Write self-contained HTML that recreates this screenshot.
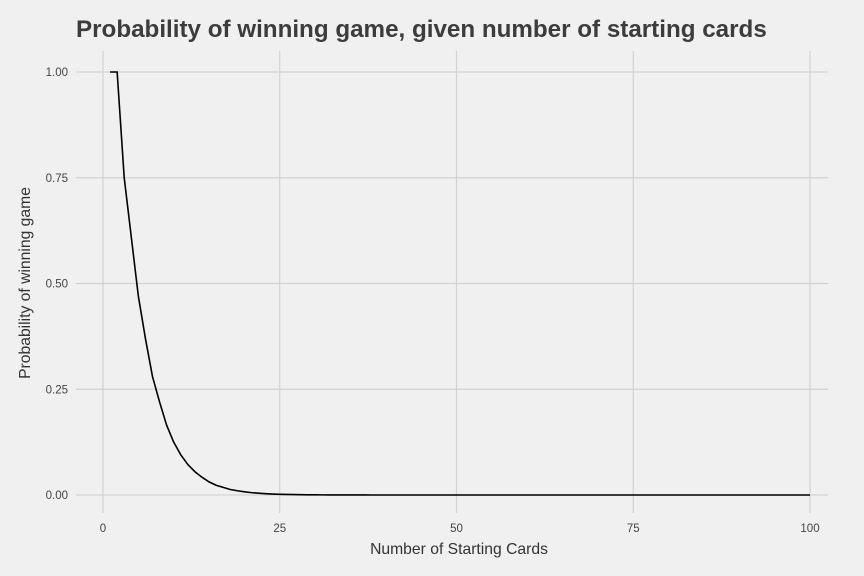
<!DOCTYPE html>
<html><head><meta charset="utf-8"><style>
body{margin:0;background:#f0f0f0;}
svg{display:block;font-family:"Liberation Sans",sans-serif;}
</style></head><body>
<svg id="chart" width="864" height="576" viewBox="0 0 864 576">
<rect width="864" height="576" fill="#f0f0f0"/>
<text x="76" y="37" font-size="24.2" font-weight="bold" fill="#3c3c3c">Probability of winning game, given number of starting cards</text>
<g id="grid"></g>
<g id="yticks"></g>
<g id="xticks"></g>
<path id="line" fill="none" stroke="#000" stroke-width="1.6"/>
<text x="459" y="554" font-size="15.7" fill="#333" text-anchor="middle">Number of Starting Cards</text>
<text transform="translate(30,283) rotate(-90)" font-size="15.7" fill="#333" text-anchor="middle">Probability of winning game</text>
</svg>
<script>
const yTicks=[0,0.25,0.5,0.75,1];
const yTickLabels=["0.00","0.25","0.50","0.75","1.00"];
const xTicks=[0,25,50,75,100];
const xTickLabels=["0","25","50","75","100"];
const cards=[];
for(let i=1;i<=100;i++)cards.push(i);
const probs=[1,1,0.75,0.61,0.47,0.37,0.28,0.22,0.165,0.125,0.095,0.072,0.055,0.042,0.031,0.023,0.018,0.013,0.010,0.0075,0.0056,0.0042,0.0031,0.0023,0.0017,0.0013,0.001,0.0007,0.0005,0.0004,0.0003,0.0002,0.00015,0.0001,0.00008,0.00006,0.00004,0.00003,0.00002,0.00001,
0,0,0,0,0,0,0,0,0,0,0,0,0,0,0,0,0,0,0,0,0,0,0,0,0,0,0,0,0,0,0,0,0,0,0,0,0,0,0,0,0,0,0,0,0,0,0,0,0,0,0,0,0,0,0,0,0,0,0,0];
const sx=v=>103+v*7.07;
const sy=v=>495-v*423;
const ns="http://www.w3.org/2000/svg";
const grid=document.getElementById('grid'),yt=document.getElementById('yticks'),xt=document.getElementById('xticks');
yTicks.forEach((t,i)=>{
 const l=document.createElementNS(ns,'line');
 
 
 l.setAttribute('x1',76);l.setAttribute('x2',828);l.setAttribute('y1',sy(t));l.setAttribute('y2',sy(t));
 l.setAttribute('stroke','#d2d2d2');l.setAttribute('stroke-width','1.2');grid.appendChild(l);
 const tx=document.createElementNS(ns,'text');
 
 
 tx.setAttribute('x',68);tx.setAttribute('y',sy(t)+4);tx.setAttribute('text-anchor','end');
 tx.setAttribute('font-size','11.5');tx.setAttribute('fill','#444');tx.textContent=yTickLabels[i];yt.appendChild(tx);
});
xTicks.forEach((t,i)=>{
 const l=document.createElementNS(ns,'line');
 
 
 l.setAttribute('x1',sx(t));l.setAttribute('x2',sx(t));l.setAttribute('y1',51);l.setAttribute('y2',513);
 l.setAttribute('stroke','#d2d2d2');l.setAttribute('stroke-width','1.2');grid.appendChild(l);
 const tx=document.createElementNS(ns,'text');
 
 
 tx.setAttribute('x',sx(t));tx.setAttribute('y',532);tx.setAttribute('text-anchor','middle');
 tx.setAttribute('font-size','11.5');tx.setAttribute('fill','#444');tx.textContent=xTickLabels[i];xt.appendChild(tx);
});
document.getElementById('line').setAttribute('d',cards.map((c,i)=>(i?'L':'M')+sx(c).toFixed(2)+','+sy(probs[i]).toFixed(2)).join(''));
</script>
</body></html>
